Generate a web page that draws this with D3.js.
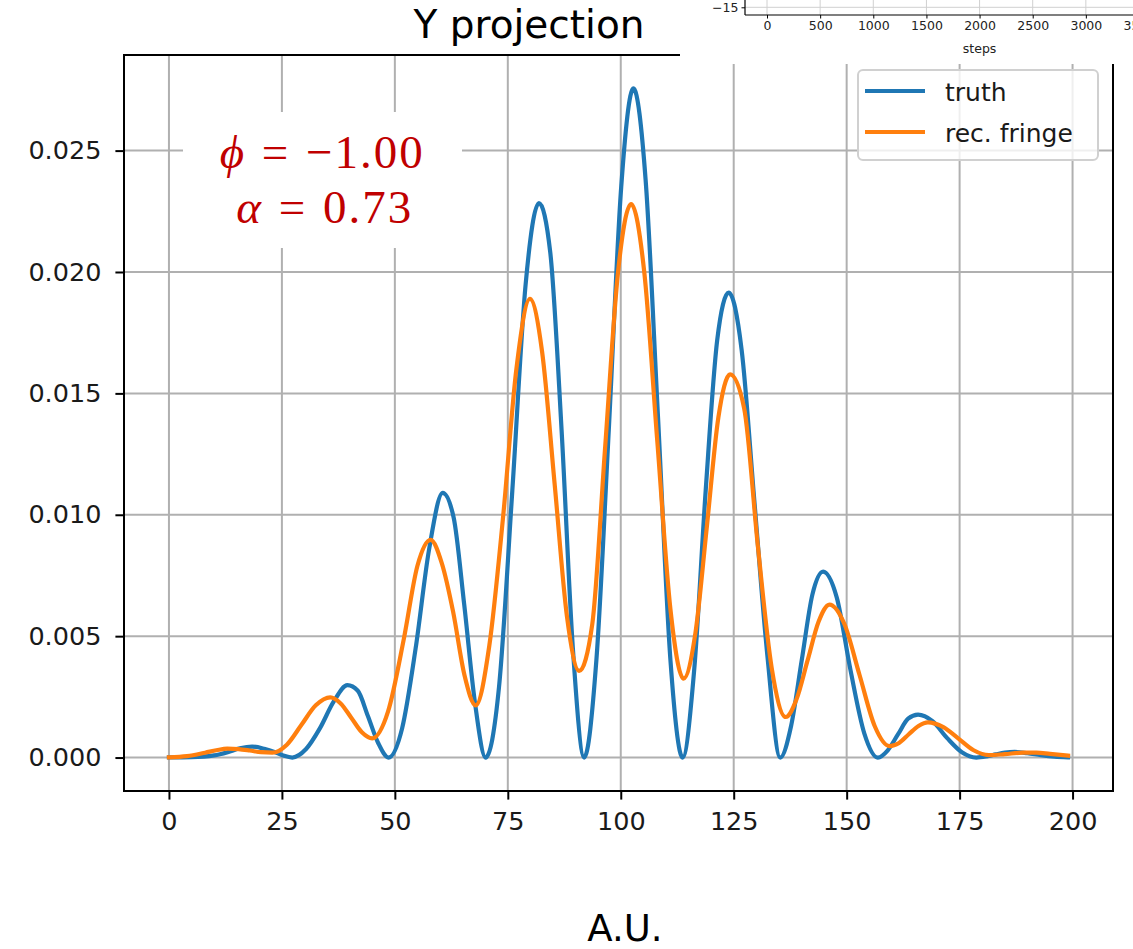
<!doctype html>
<html lang="en">
<head>
<meta charset="utf-8">
<title>Y projection</title>
<style>
  body { margin: 0; background: #fff; }
  svg { display: block; }
</style>
</head>
<body>
<div id="aqui"></div>
<script src="https://d3js.org/d3.v7.min.js"></script>
<script>
// truth curve, sample positions and values
var truthX = [0, 5, 10, 13, 15.7, 18.4, 21.1, 23.8, 25.5, 27.3,
  30.35, 33.4, 36.45, 39.5, 41.8, 44.05, 46.3, 48.6,
  51.6, 54.6, 57.6, 60.6, 63.0, 65.35, 67.7, 70.1,
  73.05, 76.0, 78.95, 81.9, 84.4, 86.9, 89.4, 91.9,
  94.6, 97.35, 100.1, 102.8, 105.5, 108.25, 111.0, 113.7,
  116.25, 118.8, 121.35, 123.9, 126.75, 129.6, 132.45, 135.3,
  137.7, 140.05, 142.4, 144.8, 147.8, 150.85, 153.9, 156.9,
  159.1, 161.35, 163.6, 165.8, 169.0, 172.25, 175.5, 178.7,
  181, 183, 185, 187.2, 190, 193, 196, 199];
var truthY = [0.00001, 0.00002, 0.00009, 0.00022, 0.00038, 0.00045, 0.00036, 0.0002, 0.00007, 0,
  0.00035, 0.0012, 0.0023, 0.00298, 0.00275, 0.0017, 0.0006, 0,
  0.0012, 0.0045, 0.0086, 0.0109, 0.0099, 0.0063, 0.0023, 0,
  0.0029, 0.0110, 0.0195, 0.02284, 0.0208, 0.0135, 0.0045, 0,
  0.0040, 0.0135, 0.0235, 0.02756, 0.0238, 0.0140, 0.0040, 0,
  0.0036, 0.0110, 0.0172, 0.01915, 0.0168, 0.0105, 0.0042, 0,
  0.0013, 0.0040, 0.0067, 0.00766, 0.0066, 0.0036, 0.0010, 0,
  0.0003, 0.00095, 0.0016, 0.00177, 0.0015, 0.0008, 0.00022, 0,
  0.00005, 0.00013, 0.0002, 0.00023, 0.00018, 0.0001, 0.00004, 0.00001];

// reconstructed fringe
var fringeX = [0, 4, 8, 10.5, 12.9, 15.4, 17.9, 20.4, 22.9,
  26.1, 29.3, 32.5, 35.7, 38.0, 40.35, 42.7, 45.0,
  48.5, 52.0, 55.0, 57.9, 60.4, 62.9, 65.4, 67.9,
  70.9, 73.9, 76.9, 79.9, 82.6, 85.35, 88.1, 90.8,
  93.7, 96.55, 99.4, 102.3, 105.2, 108.1, 111.0, 113.9,
  116.5, 119.05, 121.6, 124.2, 127.3, 130.35, 133.4, 136.5,
  138.9, 141.35, 143.8, 146.2, 149.5, 152.85, 156.2, 159.5,
  161.6, 163.75, 165.9, 168.0, 171.4, 174.75, 178.1, 181.5,
  185, 189, 192, 195, 199];
var fringeY = [0.00001, 0.00006, 0.0002, 0.0003, 0.00037, 0.00035, 0.00029, 0.00022, 0.0002,
  0.00053, 0.00134, 0.00215, 0.00248, 0.00223, 0.00164, 0.00104, 0.00079,
  0.0019, 0.0049, 0.0079, 0.00897, 0.0080, 0.0060, 0.0034, 0.00215,
  0.0046, 0.0098, 0.0160, 0.01889, 0.0167, 0.0113, 0.0058, 0.00357,
  0.0055, 0.0128, 0.0200, 0.0228, 0.0200, 0.0130, 0.0061, 0.00325,
  0.0051, 0.0095, 0.0140, 0.01578, 0.0144, 0.0087, 0.0037, 0.00167,
  0.0024, 0.0040, 0.0056, 0.0063, 0.0055, 0.0034, 0.0013, 0.00047,
  0.0006, 0.00096, 0.0013, 0.00145, 0.00125, 0.00078, 0.0003, 0.0001,
  0.00014, 0.0002, 0.0002, 0.00015, 0.00008];

var xTicks = [0, 25, 50, 75, 100, 125, 150, 175, 200];
var yTicks = [0, 0.005, 0.010, 0.015, 0.020, 0.025];
var seriesNames = ["truth", "rec. fringe"];
var seriesColors = ["#1f77b4", "#ff7f0e"];
var annotation = [["\u03d5", "=", "\u22121.00"], ["\u03b1", "=", "0.73"]];
// corner of another plot pasted over the slide
var stepTicks = [0, 500, 1000, 1500, 2000, 2500, 3000, 3500];
var insetYTicks = [-15];

var W = 1133, H = 949;
var mLeft = 124, mRight = 1113, mTop = 55, mBottom = 791;

var svg = d3.select("#aqui").append("svg")
  .attr("width", W).attr("height", H);

// matplotlib style 5% margins
var allX = truthX.concat(fringeX), allY = truthY.concat(fringeY);
var xr = d3.extent(allX), yr = d3.extent(allY);
var xm = (xr[1] - xr[0]) * 0.05, ym = (yr[1] - yr[0]) * 0.05;

var x = d3.scaleLinear().domain([xr[0] - xm, xr[1] + xm]).range([mLeft, mRight]);
var y = d3.scaleLinear().domain([yr[0] - ym, yr[1] + ym]).range([mBottom, mTop]);

// grid
var grid = svg.append("g").attr("stroke", "#b0b0b0").attr("stroke-width", 2);
grid.selectAll(".gx").data(xTicks).enter().append("line")
  .attr("x1", function(d) { return x(d); }).attr("x2", function(d) { return x(d); })
  .attr("y1", mTop).attr("y2", mBottom);
grid.selectAll(".gy").data(yTicks).enter().append("line")
  .attr("y1", function(d) { return y(d); }).attr("y2", function(d) { return y(d); })
  .attr("x1", mLeft).attr("x2", mRight);

// white box behind the phi / alpha note
svg.append("rect").attr("x", 183).attr("y", 112).attr("width", 279).attr("height", 136)
  .attr("fill", "#fff");

svg.append("clipPath").attr("id", "clip").append("rect")
  .attr("x", mLeft).attr("y", mTop).attr("width", mRight - mLeft).attr("height", mBottom - mTop);

var line = d3.line()
  .x(function(d) { return x(d[0]); })
  .y(function(d) { return y(d[1]); })
  .curve(d3.curveMonotoneX);

var series = [d3.zip(truthX, truthY), d3.zip(fringeX, fringeY)];
svg.append("g").attr("clip-path", "url(#clip)")
  .selectAll("path").data(series).enter().append("path")
  .attr("d", line)
  .attr("fill", "none")
  .attr("stroke", function(d, i) { return seriesColors[i]; })
  .attr("stroke-width", 4.2)
  .attr("stroke-linejoin", "round")
  .attr("stroke-linecap", "square");

// axes
var xAxis = svg.append("g").attr("transform", "translate(0," + mBottom + ")")
  .call(d3.axisBottom(x).tickValues(xTicks).tickFormat(d3.format("d")).tickSize(8.6).tickPadding(12));
var yAxis = svg.append("g").attr("transform", "translate(" + mLeft + ",0)")
  .call(d3.axisLeft(y).tickValues(yTicks).tickFormat(d3.format(".3f")).tickSize(8.6).tickPadding(14));
[xAxis, yAxis].forEach(function(a) {
  a.select(".domain").remove();
  a.selectAll("line").attr("stroke", "#000").attr("stroke-width", 2);
  a.selectAll("text").attr("font-family", "DejaVu Sans").attr("font-size", 25.5).attr("fill", "#1a1a1a");
});

// spines
svg.append("rect").attr("x", mLeft).attr("y", mTop)
  .attr("width", mRight - mLeft).attr("height", mBottom - mTop)
  .attr("fill", "none").attr("stroke", "#000").attr("stroke-width", 2);

// legend
var lg = svg.append("g");
lg.append("rect").attr("x", 858).attr("y", 70).attr("width", 240).attr("height", 90)
  .attr("rx", 5).attr("fill", "#fff").attr("fill-opacity", 0.8)
  .attr("stroke", "#d0d0d0").attr("stroke-width", 2);
var li = lg.selectAll(".li").data(seriesNames).enter().append("g")
  .attr("transform", function(d, i) { return "translate(0," + (91 + i * 41) + ")"; });
li.append("line").attr("x1", 865).attr("x2", 925)
  .attr("stroke", function(d, i) { return seriesColors[i]; }).attr("stroke-width", 4.2);
li.append("text").attr("x", 945).attr("y", 9.5)
  .attr("font-family", "DejaVu Sans").attr("font-size", 25).attr("fill", "#1a1a1a")
  .text(function(d) { return d; });

// phi / alpha note
var note = svg.append("g").attr("fill", "#c00000").attr("font-family", "Liberation Serif").attr("font-size", 47);
annotation.forEach(function(row, i) {
  var by = 168 + i * 55;
  var cx = i === 0 ? 275 : 292;
  note.append("text").attr("x", cx - 31).attr("y", by).attr("text-anchor", "end")
    .attr("font-style", "italic").text(row[0]);
  note.append("text").attr("x", cx).attr("y", by).attr("text-anchor", "middle").text(row[1]);
  note.append("text").attr("x", cx + 31).attr("y", by).attr("text-anchor", "start")
    .attr("letter-spacing", 2).text(row[2]);
});

// pasted corner of the other plot (top right)
var inset = svg.append("g");
inset.append("rect").attr("x", 680).attr("y", 0).attr("width", W - 680).attr("height", 64).attr("fill", "#fff");
var sx = d3.scaleLinear().domain([0, 3500]).range([767, 1139]);
var sy = d3.scaleLinear().domain([-15, -10]).range([7.3, -40]);
inset.selectAll(".sg").data(stepTicks).enter().append("line")
  .attr("x1", function(d) { return sx(d); }).attr("x2", function(d) { return sx(d); })
  .attr("y1", 0).attr("y2", 15).attr("stroke", "#d0d0d0").attr("stroke-width", 1);
inset.selectAll(".syg").data(insetYTicks).enter().append("line")
  .attr("x1", 745).attr("x2", W).attr("y1", function(d) { return sy(d); }).attr("y2", function(d) { return sy(d); })
  .attr("stroke", "#d0d0d0").attr("stroke-width", 1);
var sAxis = inset.append("g").attr("transform", "translate(0,15)")
  .call(d3.axisBottom(sx).tickValues(stepTicks).tickFormat(d3.format("d")).tickSize(3.5).tickPadding(3));
var syAxis = inset.append("g").attr("transform", "translate(745,0)")
  .call(d3.axisLeft(sy).tickValues(insetYTicks).tickFormat(function(d) { return "\u2212" + Math.abs(d); }).tickSize(3.5).tickPadding(3));
[sAxis, syAxis].forEach(function(a) {
  a.select(".domain").remove();
  a.selectAll("line").attr("stroke", "#000").attr("stroke-width", 1);
  a.selectAll("text").attr("font-family", "DejaVu Sans").attr("font-size", 12.5).attr("fill", "#222");
});
inset.append("line").attr("x1", 745).attr("x2", W).attr("y1", 15).attr("y2", 15).attr("stroke", "#000").attr("stroke-width", 1.2);
inset.append("line").attr("x1", 745).attr("x2", 745).attr("y1", 0).attr("y2", 15).attr("stroke", "#000").attr("stroke-width", 1.2);
inset.append("text").attr("x", sx(2000)).attr("y", 53).attr("text-anchor", "middle")
  .attr("font-family", "DejaVu Sans").attr("font-size", 12.5).attr("fill", "#222").text("steps");

// slide texts
svg.append("text").attr("x", 529).attr("y", 38).attr("text-anchor", "middle")
  .attr("font-family", "DejaVu Sans").attr("font-size", 39).attr("fill", "#000").text("Y projection");
svg.append("text").attr("x", 625).attr("y", 941).attr("text-anchor", "middle")
  .attr("font-family", "DejaVu Sans").attr("font-size", 37).attr("fill", "#000").text("A.U.");
</script>
</body>
</html>
